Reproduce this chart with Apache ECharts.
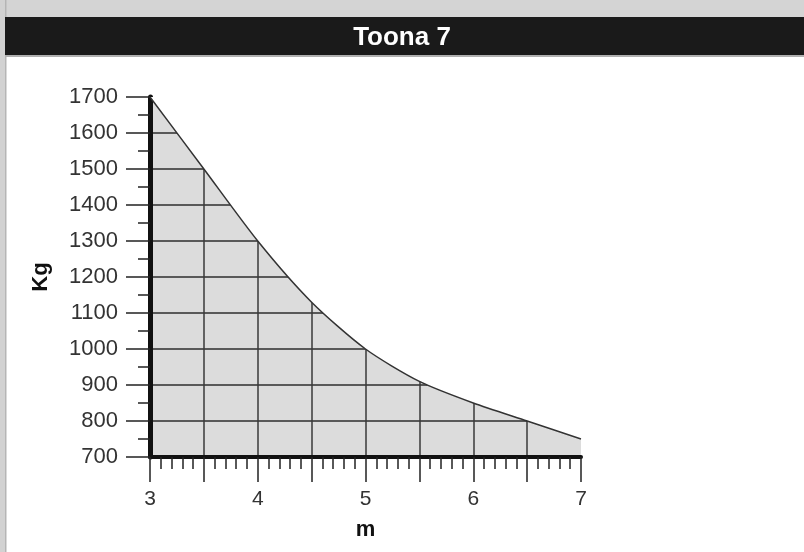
<!DOCTYPE html>
<html>
<head>
<meta charset="utf-8">
<script src="https://cdn.jsdelivr.net/npm/echarts@6/dist/echarts.min.js"></script>
<style>html,body{margin:0;padding:0;background:#fff}#c{width:804px;height:552px}</style>
</head>
<body>
<div id="c"></div>
<script>
// Data (span in m vs. load in Kg)
const titleText = 'Toona 7';
const distances = [3, 3.5, 4, 4.5, 5, 5.5, 6, 6.5, 7];
const loads = [1700, 1500, 1300, 1130, 1000, 910, 850, 800, 750];
const xLabelValues = [3, 4, 5, 6, 7];
const yMin = 700, yMax = 1700, yStep = 100;
const xMin = 3, xMax = 7, xStep = 0.5;
const xName = 'm';
const yName = 'Kg';

const chart = echarts.init(document.getElementById('c'));
const font = 'Liberation Sans, Arial, Helvetica, sans-serif';
const ySplitCount = (yMax - yMin) / yStep + 1;
const ySplitColors = [];
for (let i = 0; i < ySplitCount; i++) ySplitColors.push(i === ySplitCount - 1 ? 'rgba(0,0,0,0)' : '#2e2e2e');
const xSplitCount = (xMax - xMin) / xStep + 1;
const xSplitColors = [];
for (let i = 0; i < xSplitCount; i++) xSplitColors.push(i === xSplitCount - 1 ? 'rgba(0,0,0,0)' : '#3a3a3a');

chart.setOption({
  backgroundColor: '#ffffff',
  animation: false,
  graphic: [
    { type: 'rect', z: -10, shape: { x: 0, y: 0, width: 804, height: 17 }, style: { fill: '#d4d4d4' } },
    { type: 'rect', z: -10, shape: { x: 0, y: 0, width: 6, height: 552 }, style: { fill: '#d2d2d2' } },
    { type: 'rect', z: -9, shape: { x: 5, y: 0, width: 1.5, height: 552 }, style: { fill: '#b5b5b5' } },
    { type: 'rect', z: -8, shape: { x: 5, y: 17, width: 799, height: 38 }, style: { fill: '#1a1a1a' } },
    { type: 'rect', z: -8, shape: { x: 5, y: 55, width: 799, height: 2 }, style: { fill: '#b0b0b0' } }
  ],
  title: {
    text: titleText,
    left: 'center',
    top: 20,
    z: 10,
    textStyle: { color: '#ffffff', fontSize: 26, fontWeight: 'bold', fontFamily: font }
  },
  grid: {
    left: 150, right: 223, top: 97, bottom: 95,
    show: true, backgroundColor: '#dcdcdc', borderWidth: 0
  },
  xAxis: {
    type: 'value', min: xMin, max: xMax, interval: xStep,
    name: xName, nameLocation: 'middle', nameGap: 62,
    nameTextStyle: { fontSize: 22, fontWeight: 'bold', color: '#111', fontFamily: font },
    axisLine: { show: true, onZero: false, lineStyle: { color: '#111', width: 4 } },
    axisTick: { show: true, length: 25, lineStyle: { color: '#222', width: 1.5 } },
    minorTick: { show: true, splitNumber: 5, length: 12, lineStyle: { color: '#222', width: 1.5 } },
    axisLabel: {
      margin: 32, fontSize: 21, color: '#333', fontFamily: font,
      formatter: v => xLabelValues.includes(v) ? String(v) : ''
    },
    splitLine: { show: true, lineStyle: { color: xSplitColors, width: 1.5 } }
  },
  yAxis: {
    type: 'value', min: yMin, max: yMax, interval: yStep,
    name: yName, nameLocation: 'middle', nameGap: 98,
    nameTextStyle: { fontSize: 22, fontWeight: 'bold', color: '#111', fontFamily: font },
    axisLine: { show: true, onZero: false, lineStyle: { color: '#111', width: 5 } },
    axisTick: { show: true, length: 24, lineStyle: { color: '#222', width: 1.5 } },
    minorTick: { show: true, splitNumber: 2, length: 12, lineStyle: { color: '#222', width: 1.5 } },
    axisLabel: { margin: 32, fontSize: 22, color: '#333', fontFamily: font, formatter: v => String(v) },
    splitLine: { show: true, lineStyle: { color: ySplitColors, width: 1.5 } }
  },
  series: [{
    type: 'line',
    data: distances.map((d, i) => [d, loads[i]]),
    smooth: 0.25,
    showSymbol: false,
    lineStyle: { color: '#333', width: 1.5 },
    areaStyle: { color: '#ffffff', opacity: 1, origin: 'end' },
    z: 3
  }]
});
</script>
</body>
</html>
